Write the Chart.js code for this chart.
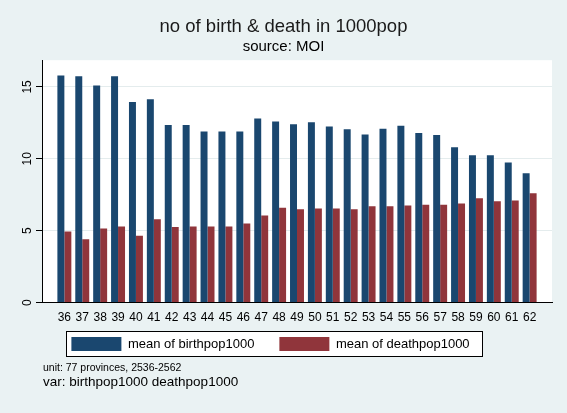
<!DOCTYPE html>
<html>
<head>
<meta charset="utf-8">
<script src="https://cdn.jsdelivr.net/npm/chart.js@4/dist/chart.umd.min.js"></script>
<style>
  html, body { margin: 0; padding: 0; background: #EAF2F3; }
  #wrap { width: 567px; height: 413px; }
</style>
</head>
<body>
<div id="wrap"><canvas id="chart"></canvas></div>
<script>
const years = [36, 37, 38, 39, 40, 41, 42, 43, 44, 45, 46, 47, 48, 49, 50, 51, 52, 53, 54, 55, 56, 57, 58, 59, 60, 61, 62];
const birthMean = [15.8, 15.75, 15.1, 15.75, 13.95, 14.15, 12.35, 12.35, 11.9, 11.9, 11.9, 12.8, 12.6, 12.4, 12.55, 12.25, 12.05, 11.7, 12.1, 12.3, 11.8, 11.65, 10.8, 10.25, 10.25, 9.75, 9.0];
const deathMean = [4.95, 4.4, 5.15, 5.3, 4.65, 5.8, 5.25, 5.3, 5.3, 5.3, 5.5, 6.05, 6.6, 6.5, 6.55, 6.55, 6.5, 6.7, 6.7, 6.75, 6.8, 6.8, 6.9, 7.25, 7.05, 7.1, 7.6];
const yTicks = [0, 5, 10, 15];
const notes = ["unit: 77 provinces, 2536-2562", "var: birthpop1000 deathpop1000"];

const FONT = '"Liberation Sans", Arial, sans-serif';

const backdrop = {
  id: "backdrop",
  beforeDraw(chart) {
    const { ctx, chartArea: a } = chart;
    ctx.save();
    ctx.fillStyle = "#EAF2F3";
    ctx.fillRect(0, 0, chart.width, chart.height);
    ctx.fillStyle = "#FFFFFF";
    ctx.fillRect(a.left, a.top, a.right - a.left, a.bottom - a.top);
    ctx.restore();
  },
};

// legend sits a bit higher and more to the left than chart.js puts it
const legendShift = {
  id: "legendShift",
  afterLayout(chart) {
    const lg = chart.legend;
    lg.top -= 21;
    lg.bottom -= 21;
    lg.left -= 13;
    lg.right -= 13;
  },
};

function legendRect(chart) {
  const boxes = chart.legend.legendHitBoxes;
  if (!boxes || !boxes.length) return null;
  const left = Math.min(...boxes.map((b) => b.left)) - 5;
  const right = Math.max(...boxes.map((b) => b.left + b.width)) + 13;
  const mid = boxes[0].top + boxes[0].height / 2;
  return { x: Math.round(left), y: Math.round(mid - 12.5), w: Math.round(right - left), h: 25 };
}

const legendFill = {
  id: "legendFill",
  beforeDraw(chart) {
    const r = legendRect(chart);
    if (!r) return;
    const ctx = chart.ctx;
    ctx.save();
    ctx.fillStyle = "#FFFFFF";
    ctx.fillRect(r.x, r.y, r.w + 1, r.h + 1);
    ctx.restore();
  },
};

// legend frame and the two note lines under it
const extras = {
  id: "extras",
  afterDraw(chart) {
    const ctx = chart.ctx;
    const r = legendRect(chart);
    ctx.save();
    if (r) {
      ctx.strokeStyle = "#000000";
      ctx.lineWidth = 1;
      ctx.strokeRect(r.x + 0.5, r.y + 0.5, r.w, r.h);
    }
    ctx.fillStyle = "#000000";
    ctx.textBaseline = "alphabetic";
    ctx.textAlign = "left";
    ctx.font = "10.5px " + FONT;
    ctx.fillText(notes[0], 43, 371);
    ctx.font = "13.5px " + FONT;
    ctx.fillText(notes[1], 43, 386);
    ctx.restore();
  },
};

new Chart(document.getElementById("chart"), {
  type: "bar",
  data: {
    datasets: [
      {
        label: "mean of birthpop1000",
        data: years.map((x, i) => ({ x: x, y: birthMean[i] })),
        backgroundColor: "#1A476F",
      },
      {
        label: "mean of deathpop1000",
        data: years.map((x, i) => ({ x: x, y: deathMean[i] })),
        backgroundColor: "#90353B",
      },
    ],
  },
  options: {
    responsive: true,
    maintainAspectRatio: false,
    animation: false,
    categoryPercentage: 0.78,
    barPercentage: 1.0,
    layout: { padding: { left: 15, right: 15, top: 0, bottom: 31 } },
    scales: {
      x: {
        type: "linear",
        offset: false,
        min: 34.75,
        max: 63.25,
        grid: { display: false, drawTicks: false },
        border: { display: true, color: "#000000", width: 1 },
        afterBuildTicks(scale) {
          scale.ticks = years.map((v) => ({ value: v }));
        },
        ticks: {
          autoSkip: false,
          maxRotation: 0,
          padding: 8,
          color: "#000000",
          font: { family: FONT, size: 12 },
          callback: (v) => String(v),
        },
      },
      y: {
        min: 0,
        max: 16.86,
        afterBuildTicks(scale) {
          scale.ticks = yTicks.map((v) => ({ value: v }));
        },
        afterFit(scale) {
          scale.width = 27;
        },
        grid: { color: "#E4ECED", tickColor: "#000000", tickLength: 6 },
        border: { display: true, color: "#000000", width: 1 },
        ticks: {
          minRotation: 90,
          maxRotation: 90,
          crossAlign: "center",
          padding: 1.5,
          color: "#000000",
          font: { family: FONT, size: 12 },
        },
      },
    },
    plugins: {
      title: {
        display: true,
        text: "no of birth & death in 1000pop",
        color: "#1A1A1A",
        font: { family: FONT, size: 18.5, weight: "normal" },
        padding: { top: 16, bottom: 0 },
      },
      subtitle: {
        display: true,
        text: "source: MOI",
        color: "#000000",
        font: { family: FONT, size: 15, weight: "normal" },
        padding: { top: 0, bottom: 4 },
      },
      legend: {
        position: "bottom",
        labels: {
          boxWidth: 50,
          boxHeight: 14,
          padding: 25,
          color: "#000000",
          font: { family: FONT, size: 13 },
        },
      },
      tooltip: { enabled: false },
    },
  },
  plugins: [backdrop, legendShift, legendFill, extras],
});
</script>
</body>
</html>
